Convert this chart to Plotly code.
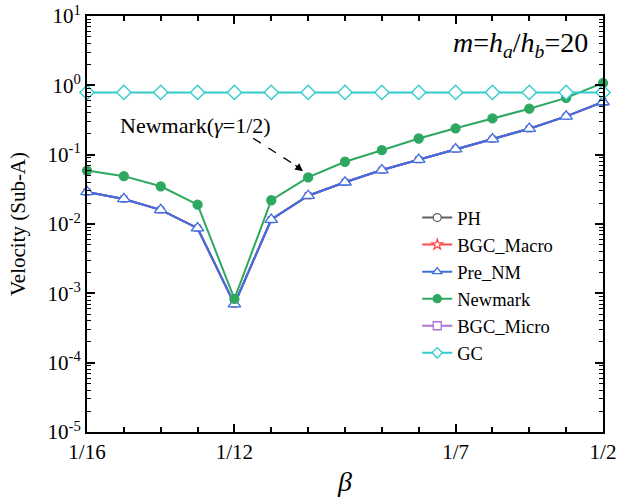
import plotly.graph_objects as go

# ---- data ----
beta_index = list(range(15))
x_tick_pos = [0, 4, 10, 14]
x_tick_labels = ["1/16", "1/12", "1/7", "1/2"]

pre_nm = [0.029, 0.023, 0.016, 0.0087, 0.0007, 0.0116, 0.0256, 0.040, 0.060,
          0.085, 0.12, 0.168, 0.237, 0.356, 0.575]
newmark = [0.059, 0.049, 0.035, 0.019, 0.00083, 0.022, 0.047, 0.079, 0.116,
           0.171, 0.24, 0.333, 0.46, 0.66, 1.08]
ph = pre_nm
bgc_macro = pre_nm
bgc_micro = pre_nm
gc = [0.79] * 15

y_tick_vals = [1e-5, 1e-4, 1e-3, 1e-2, 1e-1, 1, 10]
y_tick_text = ["10<sup>-5</sup>", "10<sup>-4</sup>", "10<sup>-3</sup>", "10<sup>-2</sup>",
               "10<sup>-1</sup>", "10<sup>0</sup>", "10<sup>1</sup>"]

SERIF = "Liberation Serif"

fig = go.Figure()

series = [
    # name, y, color, symbol, fill, plot marker size, legend rank
    ("PH", ph, "#606060", "circle", "white", 6, 1),
    ("BGC_Macro", bgc_macro, "#FF4D4D", "star", "white", 6, 2),
    ("BGC_Micro", bgc_micro, "#B070D8", "square", "white", 6, 5),
    ("Pre_NM", pre_nm, "#3A6FE0", "triangle-up", "white", 11, 3),
    ("Newmark", newmark, "#2EA860", "circle", "#2EA860", 9, 4),
    ("GC", gc, "#33CCCC", "diamond", "white", 11, 6),
]

for name, y, color, symbol, fill, size, rank in series:
    fig.add_trace(go.Scatter(
        x=beta_index, y=y, name=name, mode="lines+markers",
        line=dict(color=color, width=2),
        marker=dict(symbol=symbol, size=size, color=fill,
                    line=dict(color=color, width=1.3)),
        cliponaxis=False, showlegend=False))
    # legend entry
    fig.add_trace(go.Scatter(
        x=[None], y=[None], name=name, mode="lines+markers",
        line=dict(color=color, width=2),
        marker=dict(symbol=symbol, size=8, color=fill,
                    line=dict(color=color, width=1.3)),
        showlegend=True, legendrank=rank))

minor_y = [m * 10.0 ** k for k in range(-5, 1) for m in range(2, 10)]

fig.update_layout(
    width=631, height=502,
    margin=dict(l=87, r=28, t=16, b=70),
    paper_bgcolor="white", plot_bgcolor="white",
    font=dict(family=SERIF, size=20, color="black"),
    showlegend=True,
    legend=dict(x=0.64, y=0.56, xanchor="left", yanchor="top",
                bgcolor="rgba(0,0,0,0)", font=dict(family=SERIF, size=18.5),
                tracegroupgap=0, itemwidth=30),
    xaxis=dict(range=[0, 14], tickmode="array", tickvals=x_tick_pos, ticktext=x_tick_labels,
               automargin=False,
               ticks="inside", ticklen=8, tickwidth=2, tickcolor="black",
               showline=True, linewidth=2, linecolor="black", mirror="ticks",
               showgrid=False, zeroline=False,
               minor=dict(tickvals=beta_index, ticks="inside", ticklen=5, tickwidth=1.5,
                          tickcolor="black", showgrid=False),
               tickfont=dict(family=SERIF, size=21),
               title=dict(text="<i>β</i>", font=dict(family=SERIF, size=28), standoff=8)),
    yaxis=dict(type="log", range=[-5, 1], tickmode="array", tickvals=y_tick_vals,
               ticktext=y_tick_text, automargin=False,
               ticks="inside", ticklen=8, tickwidth=2, tickcolor="black",
               showline=True, linewidth=2, linecolor="black", mirror="ticks",
               showgrid=False, zeroline=False,
               minor=dict(tickvals=minor_y, ticks="inside", ticklen=4, tickwidth=1.2,
                          tickcolor="black", showgrid=False),
               tickfont=dict(family=SERIF, size=21),
               title=dict(text="Velocity (Sub-A)", font=dict(family=SERIF, size=21),
                          standoff=16)),
)

fig.add_annotation(xref="paper", yref="paper", x=0.975, y=0.932, xanchor="right", yanchor="middle",
                   text="<i>m</i>=<i>h<sub>a</sub></i>/<i>h<sub>b</sub></i>=20", showarrow=False,
                   font=dict(family=SERIF, size=28))
fig.add_annotation(xref="paper", yref="paper", x=0.06, y=0.737, xanchor="left", yanchor="middle",
                   text="Newmark(<i>γ</i>=1/2)", showarrow=False,
                   font=dict(family=SERIF, size=22))
fig.add_shape(type="line", xref="paper", yref="paper", x0=0.322, y0=0.706, x1=0.408, y1=0.638,
              line=dict(color="black", width=1.3, dash="dash"))
fig.add_annotation(xref="paper", yref="paper", x=0.4185, y=0.627, ax=-9, ay=-7,
                   text="", showarrow=True, arrowhead=2, arrowsize=1.2, arrowwidth=1.3,
                   arrowcolor="black")

fig.write_html("out.html")
